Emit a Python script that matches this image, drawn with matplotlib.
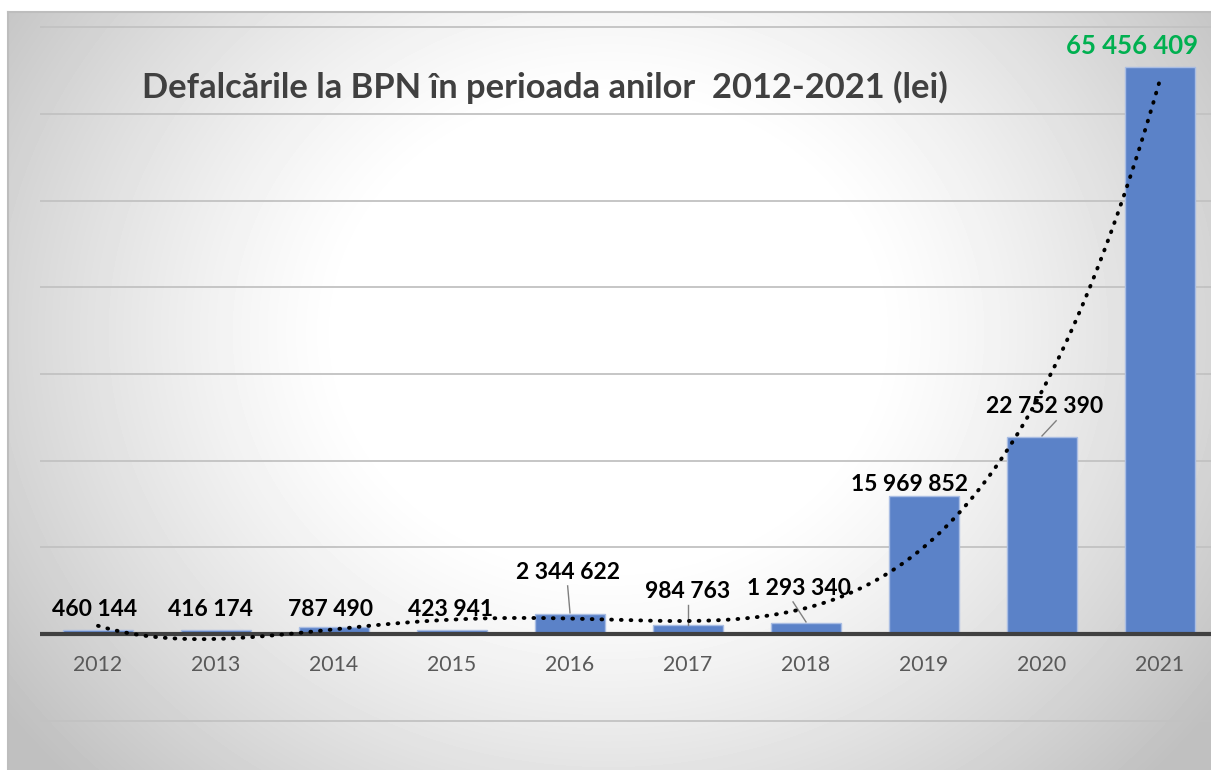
import matplotlib.pyplot as plt
import numpy as np

# data
years = ["2012", "2013", "2014", "2015", "2016", "2017", "2018", "2019", "2020", "2021"]
values = [460144, 416174, 787490, 423941, 2344622, 984763, 1293340, 15969852, 22752390, 65456409]
labels = ["460 144", "416 174", "787 490", "423 941", "2 344 622", "984 763",
          "1 293 340", "15 969 852", "22 752 390", "65 456 409"]
# label centres (category offset, height in lei) as placed in the original
lab_dx = [-0.03, -0.05, -0.03, -0.01, -0.02, 0.0, -0.06, -0.12, 0.02, -0.24]
lab_y = [2.88e6, 2.88e6, 2.88e6, 2.88e6, 7.15e6, 4.96e6, 5.3e6, 17.2e6, 26.2e6, 67.8e6]
leader = [False, False, False, False, True, True, True, False, True, False]

W, H = 1211, 770
fig = plt.figure(figsize=(W / 100, H / 100), dpi=100)
fig.patch.set_facecolor("white")

# radial gradient background
bg = fig.add_axes([8 / W, 0, 1 - 8 / W, (H - 12) / H])
yy, xx = np.mgrid[0:H - 12, 0:W - 8]
cx, cy = 600, 320
r = np.sqrt(((xx - cx) / 1.15) ** 2 + (yy - cy) ** 2)
t = np.clip((r - 230) / 420, 0, 1) ** 1.2
img = 1 - 0.25 * t
bg.imshow(img, cmap="gray", vmin=0, vmax=1, aspect="auto", interpolation="bilinear")
bg.set_axis_off()
fig.add_artist(plt.Line2D([8 / W, 1], [1 - 12 / H, 1 - 12 / H], color="#bdbdbd", lw=1.5))
fig.add_artist(plt.Line2D([8 / W, 8 / W], [0, 1 - 12 / H], color="#bdbdbd", lw=1.5))

ax = fig.add_axes([0, 0, 1, 1])
ax.patch.set_alpha(0)
x = np.arange(len(years))
step = 118.0
unit = 10e6 / 86.67
ax.set_xlim(-98 / step, (W - 98) / step)
ax.set_ylim(-(H - 634) * unit, 634 * unit)

for g in range(-1, 8):
    if g == 0:
        continue
    ax.hlines(g * 10e6, -0.49, 12, color="#c2c2c2", lw=1.3, zorder=1)

ax.bar(x, values, width=0.6, color="#5b82c8", edgecolor="#a9bde3", linewidth=1, zorder=2)
ax.hlines(0, -0.49, 12, color="#404040", lw=3, zorder=3)

# polynomial trendline
coef = np.polyfit(x + 1, values, 4)
xs = np.linspace(0, 9, 300)
ax.plot(xs, np.polyval(coef, xs + 1), color="black", lw=2.8, ls=(0, (0.2, 2.3)),
        dash_capstyle="round", zorder=4)

for i, v in enumerate(values):
    lx, ly = i + lab_dx[i], lab_y[i]
    col = "#00b050" if i == len(values) - 1 else "black"
    fs = 18.5 if i == len(values) - 1 else 16.5
    ax.text(lx, ly, labels[i], ha="center", va="center", fontsize=fs,
            fontweight="bold", color=col, family="Lato", zorder=5)
    if leader[i]:
        ax.plot([lx + (0.1 if i == 8 else 0.0) - (0.05 if i == 6 else 0), i],
                [ly - 1.6e6, v + 0.1e6], color="#7f7f7f", lw=1, zorder=3)

for i, yr in enumerate(years):
    ax.text(i, -3.6e6, yr, ha="center", va="center", fontsize=15.3, color="#595959", family="Lato")

ax.text(545 / W, 1 - 87 / H, "Defalcările la BPN în perioada anilor  2012-2021 (lei)",
        transform=ax.transAxes, ha="center", va="center", fontsize=24.8,
        fontweight="bold", color="#404040", family="Lato")
ax.set_axis_off()

fig.savefig("out.png", dpi=100)
